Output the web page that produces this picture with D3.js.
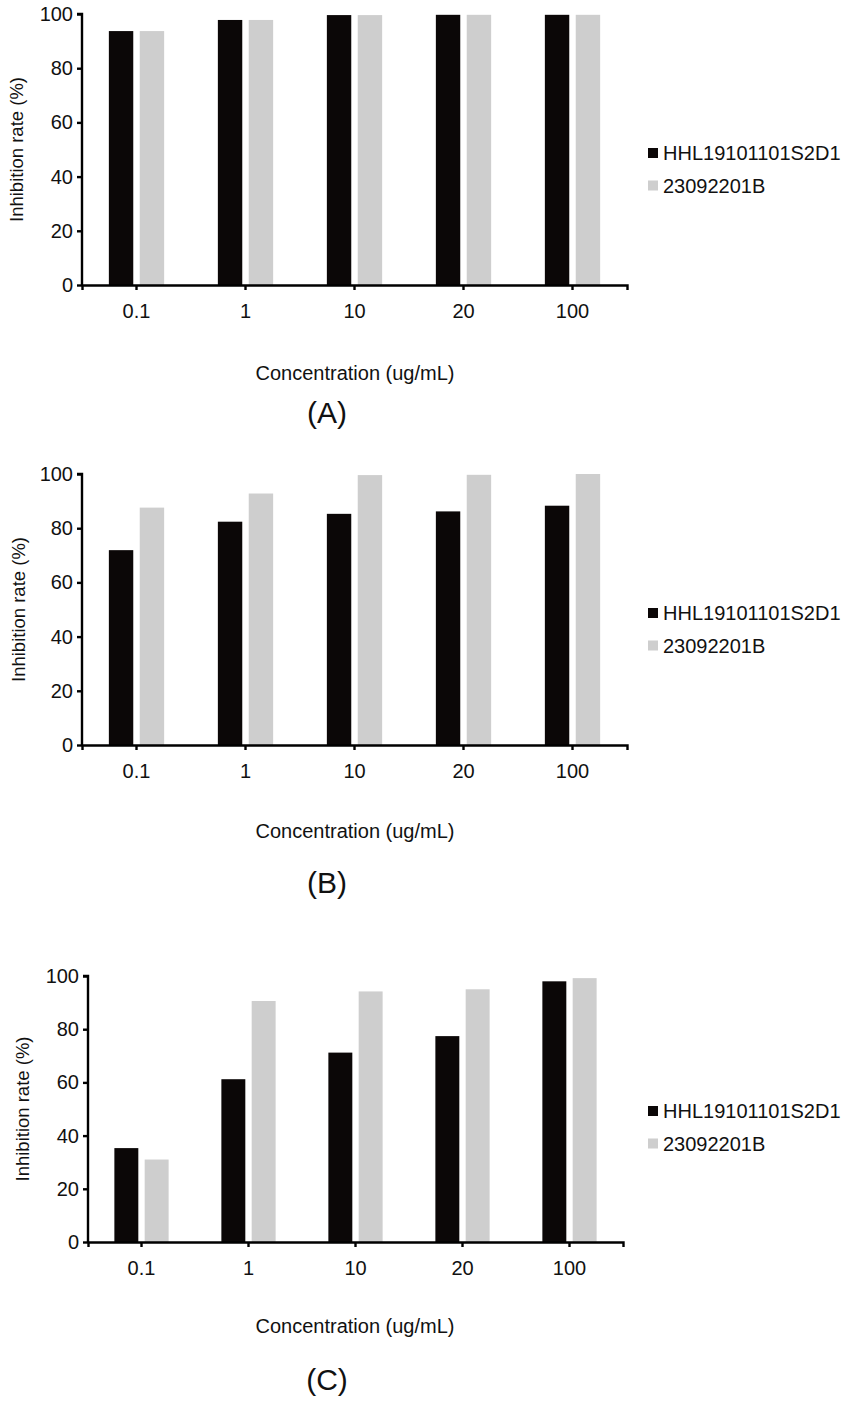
<!DOCTYPE html>
<html>
<head>
<meta charset="utf-8">
<script src="https://cdn.jsdelivr.net/npm/d3@7"></script>
<style>
  body { margin: 0; background: #fff; }
  svg { display: block; font-family: "Liberation Sans", Arial, sans-serif; }
</style>
</head>
<body>
<svg id="chart" width="850" height="1407"></svg>
<script>
// categories and series
const concentrations = ['0.1', '1', '10', '20', '100'];
const seriesNames = ['HHL19101101S2D1', '23092201B'];
const yTicks = [0, 20, 40, 60, 80, 100];

// values (inhibition rate, %)
const panelA_hhl = [93.7, 97.8, 99.6, 99.7, 99.7];
const panelA_ref = [93.7, 97.8, 99.6, 99.7, 99.7];
const panelB_hhl = [71.9, 82.4, 85.3, 86.2, 88.3];
const panelB_ref = [87.6, 92.8, 99.6, 99.7, 100];
const panelC_hhl = [35.3, 61.2, 71.2, 77.4, 98.0];
const panelC_ref = [31.0, 90.6, 94.2, 95.0, 99.2];

const colors = ['#0b0707', '#cecece'];

// layout of each panel
const panels = [
  { label: '(A)', s1: panelA_hhl, s2: panelA_ref, top: 14, bottom: 285, left: 82, right: 627, legendY: 153, titleX: 16, xTitleY: 380, letterY: 423 },
  { label: '(B)', s1: panelB_hhl, s2: panelB_ref, top: 474, bottom: 745, left: 82, right: 627, legendY: 613, titleX: 18, xTitleY: 838, letterY: 893 },
  { label: '(C)', s1: panelC_hhl, s2: panelC_ref, top: 976, bottom: 1242, left: 88, right: 623, legendY: 1111, titleX: 22, xTitleY: 1333, letterY: 1390 }
];

const svg = d3.select('#chart');

panels.forEach(p => {
  const g = svg.append('g');

  const x0 = d3.scaleBand()
    .domain(concentrations)
    .range([p.left, p.right])
    .padding(0);

  const x1 = d3.scaleBand()
    .domain(seriesNames)
    .range([0, x0.bandwidth()])
    .paddingInner(0.21)
    .paddingOuter(0.87);

  const y = d3.scaleLinear()
    .domain([0, 100])
    .range([p.bottom, p.top]);

  const rows = concentrations.map((c, i) => ({ c: c, vals: [p.s1[i], p.s2[i]] }));

  // bars
  g.selectAll('g.grp')
    .data(rows)
    .enter()
    .append('g')
    .attr('class', 'grp')
    .attr('transform', d => `translate(${x0(d.c)},0)`)
    .selectAll('rect')
    .data(d => d.vals.map((v, k) => ({ name: seriesNames[k], v: v, k: k })))
    .enter()
    .append('rect')
    .attr('x', d => x1(d.name))
    .attr('y', d => y(d.v))
    .attr('width', x1.bandwidth())
    .attr('height', d => y(0) - y(d.v))
    .attr('fill', d => colors[d.k]);

  // y axis
  const yAxis = g.append('g')
    .attr('transform', `translate(${p.left},0)`)
    .call(d3.axisLeft(y).tickValues(yTicks).tickSize(5).tickPadding(4));

  // x axis
  const xAxis = g.append('g')
    .attr('transform', `translate(0,${p.bottom})`)
    .call(d3.axisBottom(x0).tickSize(5).tickSizeOuter(5).tickPadding(14));

  [yAxis, xAxis].forEach(a => {
    a.selectAll('path, line').attr('stroke', '#000').attr('stroke-width', 2.4);
    a.selectAll('text').attr('fill', '#111').attr('font-size', 20);
  });
  yAxis.select('.domain').attr('d', `M-5,${p.top}H0V${p.bottom}`);

  // y axis title
  g.append('text')
    .attr('transform', `translate(${p.titleX},${(p.top + p.bottom) / 2}) rotate(-90)`)
    .attr('text-anchor', 'middle')
    .attr('dominant-baseline', 'central')
    .attr('font-size', 18.5)
    .attr('fill', '#111')
    .text('Inhibition rate (%)');

  // x axis title
  g.append('text')
    .attr('x', 355)
    .attr('y', p.xTitleY)
    .attr('text-anchor', 'middle')
    .attr('font-size', 20)
    .attr('fill', '#111')
    .text('Concentration (ug/mL)');

  // panel letter
  g.append('text')
    .attr('x', 327)
    .attr('y', p.letterY)
    .attr('text-anchor', 'middle')
    .attr('font-size', 30)
    .attr('fill', '#111')
    .text(p.label);

  // legend
  const leg = g.append('g')
    .selectAll('g')
    .data(seriesNames)
    .enter()
    .append('g')
    .attr('transform', (d, i) => `translate(648,${p.legendY + i * 32.5})`);

  leg.append('rect')
    .attr('x', 0)
    .attr('y', -5)
    .attr('width', 10)
    .attr('height', 10)
    .attr('fill', (d, i) => colors[i]);

  leg.append('text')
    .attr('x', 15)
    .attr('y', 7)
    .attr('font-size', 20)
    .attr('fill', '#111')
    .text(d => d);
});
</script>
</body>
</html>
